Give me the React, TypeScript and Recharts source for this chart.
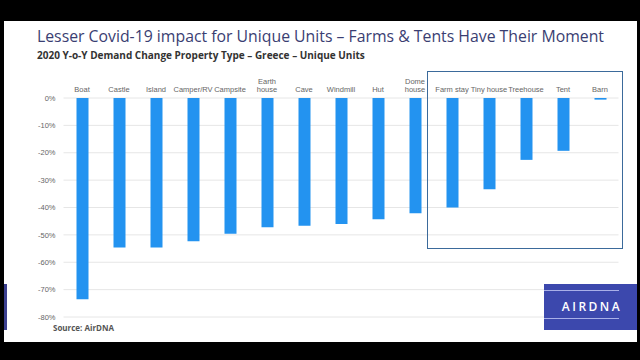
import React from "react";
import { BarChart, Bar, XAxis, YAxis, CartesianGrid } from "recharts";

const categories = [
  "Boat",
  "Castle",
  "Island",
  "Camper/RV",
  "Campsite",
  "Earth\nhouse",
  "Cave",
  "Windmill",
  "Hut",
  "Dome\nhouse",
  "Farm stay",
  "Tiny house",
  "Treehouse",
  "Tent",
  "Barn",
];
const demandChange = [
  -73.5, -54.6, -54.6, -52.3, -49.6, -47.2, -46.7, -46.0, -44.3, -42.1, -40.0, -33.3, -22.6, -19.3, -0.6,
];
const yTicks = [0, -10, -20, -30, -40, -50, -60, -70, -80];

const data = categories.map((name, i) => ({ name, value: demandChange[i] }));

const CategoryTick = (props: any) => {
  const { x, y, payload } = props;
  const lines = String(payload.value).split("\n");
  return (
    <g>
      {lines.map((line, i) => (
        <text
          key={i}
          x={x}
          y={y + 2 - (lines.length - 1 - i) * 8}
          textAnchor="middle"
          fill="#666"
          fontSize={7.5}
          fontFamily="Liberation Sans, Arial, sans-serif"
        >
          {line}
        </text>
      ))}
    </g>
  );
};

export default function App() {
  return (
    <div
      style={{
        position: "fixed",
        left: 0,
        top: 0,
        width: 640,
        height: 360,
        background: "#000",
        overflow: "hidden",
      }}
    >
      <div
        style={{
          position: "absolute",
          left: 4,
          top: 21,
          width: 633,
          height: 321,
          background: "#fff",
        }}
      />
      <div
        style={{
          position: "absolute",
          left: 37,
          top: 26,
          fontFamily: "'Open Sans', sans-serif",
          fontSize: 15.8,
          color: "#3a3e72",
          whiteSpace: "nowrap",
          lineHeight: "20px",
        }}
      >
        Lesser Covid-19 impact for Unique Units – Farms &amp; Tents Have Their Moment
      </div>
      <div
        style={{
          position: "absolute",
          left: 37,
          top: 47,
          fontFamily: "'Open Sans', sans-serif",
          fontSize: 10,
          fontWeight: 700,
          color: "#333",
          whiteSpace: "nowrap",
          lineHeight: "16px",
        }}
      >
        2020 Y-o-Y Demand Change Property Type – Greece – Unique Units
      </div>
      <div style={{ position: "absolute", left: 0, top: 0 }}>
        <BarChart
          width={640}
          height={360}
          data={data}
          margin={{ top: 68, right: 21.5, left: 13.5, bottom: 43 }}
        >
          <CartesianGrid vertical={false} stroke="#e6e6e6" />
          <XAxis
            dataKey="name"
            orientation="top"
            height={30}
            axisLine={false}
            tickLine={false}
            interval={0}
            tick={<CategoryTick />}
          />
          <YAxis
            width={50}
            domain={[-80, 0]}
            ticks={yTicks}
            axisLine={false}
            tickLine={false}
            tickFormatter={(v: number) => `${v}%`}
            tick={{ fill: "#666", fontSize: 7.5, fontFamily: "Liberation Sans, Arial, sans-serif" }}
          />
          <Bar dataKey="value" fill="#2393f0" barSize={12} isAnimationActive={false} />
        </BarChart>
      </div>
      <div
        style={{
          position: "absolute",
          left: 427,
          top: 71,
          width: 196,
          height: 178,
          border: "1.5px solid #3b6a9b",
          boxSizing: "border-box",
        }}
      />
      <div
        style={{
          position: "absolute",
          left: 53,
          top: 322,
          fontFamily: "'Open Sans', sans-serif",
          fontSize: 8,
          fontWeight: 700,
          color: "#555",
          lineHeight: "12px",
        }}
      >
        Source: AirDNA
      </div>
      <div
        style={{
          position: "absolute",
          left: 4,
          top: 284,
          width: 3,
          height: 46,
          background: "#3b3f8f",
        }}
      />
      <div
        style={{
          position: "absolute",
          left: 544,
          top: 284,
          width: 93,
          height: 46,
          background: "#3c48ad",
        }}
      >
        <div style={{ position: "absolute", left: 0, top: 6, width: 75, height: 1, background: "#a9b0e8" }} />
        <div style={{ position: "absolute", left: 0, top: 34, width: 75, height: 1, background: "#a9b0e8" }} />
        <div
          style={{
            position: "absolute",
            left: 8,
            top: 15,
            width: 80,
            textAlign: "center",
            fontFamily: "'Open Sans', sans-serif",
            fontSize: 12,
            fontWeight: 600,
            letterSpacing: 2.5,
            color: "#fff",
            lineHeight: "16px",
          }}
        >
          AIRDNA
        </div>
      </div>
    </div>
  );
}
